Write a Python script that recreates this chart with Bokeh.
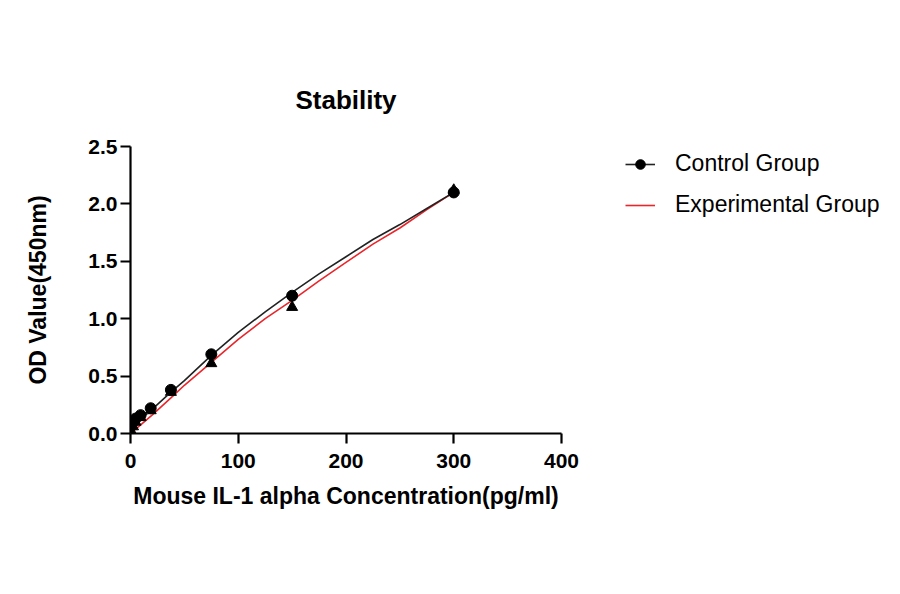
from bokeh.plotting import figure
from bokeh.models import Range1d, Legend, LegendItem, FixedTicker
from bokeh.embed import file_html
from bokeh.resources import INLINE

# data
conc = [0, 2.34, 4.69, 9.38, 18.75, 37.5, 75, 150, 300]
control_od = [0.07, 0.10, 0.13, 0.16, 0.22, 0.38, 0.69, 1.20, 2.10]
exp_od = [0.03, 0.06, 0.10, 0.14, 0.20, 0.36, 0.61, 1.10, 2.12]

fit_x = [0, 10, 20, 37.5, 50, 75, 100, 125, 150, 175, 200, 225, 250, 275, 300]
control_fit = [0.05, 0.13, 0.21, 0.36, 0.46, 0.68, 0.88, 1.06, 1.23, 1.39, 1.54, 1.69, 1.82, 1.96, 2.10]
exp_fit = [0.00, 0.08, 0.16, 0.31, 0.42, 0.62, 0.82, 1.00, 1.16, 1.33, 1.49, 1.65, 1.79, 1.95, 2.10]

x_ticks = [0, 100, 200, 300, 400]
y_ticks = [0.0, 0.5, 1.0, 1.5, 2.0, 2.5]

FONT = "Liberation Sans"

p = figure(frame_width=431, frame_height=287, output_backend="svg", toolbar_location=None,
           x_range=Range1d(0, 400), y_range=Range1d(0, 2.5),
           title="Stability",
           min_border_left=130, min_border_right=323, min_border_top=146, min_border_bottom=145)
p.outline_line_color = None
p.xgrid.visible = False
p.ygrid.visible = False

p.title.align = "center"
p.title.text_font = FONT
p.title.text_font_style = "bold"
p.title.text_font_size = "26px"
p.title.text_color = "black"
p.title.standoff = 64

for ax in (p.xaxis[0], p.yaxis[0]):
    ax.axis_line_width = 2.2
    ax.axis_line_color = "black"
    ax.major_tick_line_width = 2.2
    ax.major_tick_line_color = "black"
    ax.major_tick_out = 10
    ax.major_tick_in = 0
    ax.minor_tick_line_color = None
    ax.major_label_text_font = FONT
    ax.major_label_text_font_style = "bold"
    ax.major_label_text_font_size = "21px"
    ax.major_label_text_color = "black"
    ax.axis_label_text_font = FONT
    ax.axis_label_text_font_style = "bold"
    ax.axis_label_text_font_size = "23px"
    ax.axis_label_text_color = "black"

p.xaxis.ticker = FixedTicker(ticks=x_ticks)
p.yaxis.ticker = FixedTicker(ticks=y_ticks)
p.yaxis.major_label_overrides = {t: f"{t:.1f}" for t in y_ticks}
p.xaxis.axis_label = "Mouse IL-1 alpha Concentration(pg/ml)"
p.yaxis.axis_label = "OD Value(450nm)"
p.xaxis.major_label_standoff = 10
p.yaxis.major_label_standoff = 3
p.xaxis.axis_label_standoff = 12
p.yaxis.axis_label_standoff = 34

r_red = p.line(fit_x, exp_fit, line_color="#e8262b", line_width=1.6)
r_tri = p.scatter(conc, exp_od, marker="triangle", size=11, fill_color="black", line_color="black")
r_blk = p.line(fit_x, control_fit, line_color="#222222", line_width=1.6)
r_cir = p.scatter(conc, control_od, marker="circle", size=11, fill_color="black", line_color="black")

legend = Legend(items=[
    LegendItem(label="Control Group", renderers=[r_blk, r_cir]),
    LegendItem(label="Experimental Group", renderers=[r_red]),
], location=(64, 215))
legend.border_line_color = None
legend.background_fill_alpha = 0
legend.padding = 0
legend.margin = 0
legend.spacing = 14
legend.glyph_width = 30
legend.glyph_height = 24
legend.label_height = 24
legend.label_standoff = 20
legend.label_text_font = FONT
legend.label_text_font_size = "23px"
legend.label_text_color = "black"
p.add_layout(legend, "right")

open("out.html", "w").write(file_html(p, INLINE))
